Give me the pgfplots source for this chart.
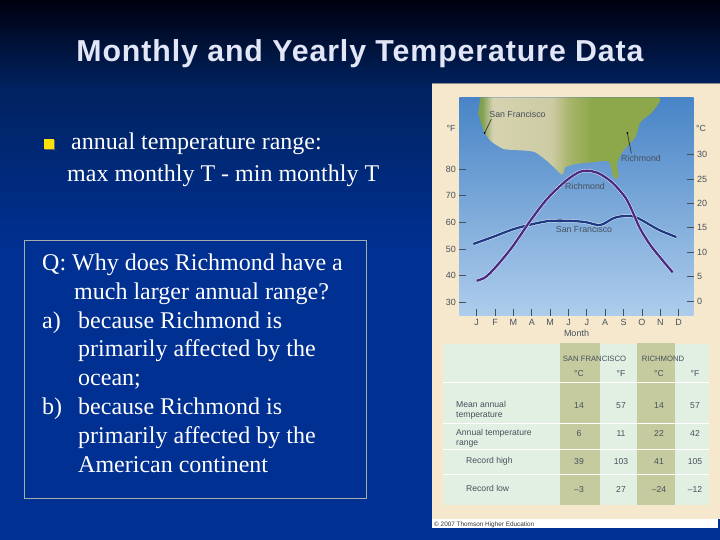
\documentclass[border=0pt]{standalone}
\usepackage{fontspec}
\setmainfont{Liberation Serif}
\newfontfamily\arial{Liberation Sans}
\newfontfamily\arialtitle[LetterSpace=3.0]{Liberation Sans}
\usepackage{pgfplots}
\pgfplotsset{compat=1.18}
\definecolor{slidetop}{HTML}{00000F}
\definecolor{slidemid}{HTML}{00225F}
\definecolor{slidelow}{HTML}{003092}
\definecolor{panel}{HTML}{F6E8CC}
\definecolor{tablebg}{HTML}{E2EFE3}
\definecolor{olivecol}{HTML}{C6CB9F}
\definecolor{inkgray}{HTML}{46505C}
\definecolor{richline}{HTML}{4A2A82}
\definecolor{sfline}{HTML}{1E3A86}
\definecolor{titlecol}{HTML}{E2E6F6}
\definecolor{boxline}{HTML}{A4ACAC}
\definecolor{skytop}{HTML}{4884C6}
\definecolor{skylow}{HTML}{AECDEC}
\definecolor{landa}{HTML}{7FA050}
\definecolor{landb}{HTML}{D6D2B0}
\definecolor{landc}{HTML}{CCCBA4}
\definecolor{landm}{HTML}{A8B46A}
\definecolor{landd}{HTML}{8CA84A}
% tikz maps the 25bp..75bp band of a shading onto the path
\pgfdeclareverticalshading{slide}{100bp}{color(0bp)=(slidelow); color(52bp)=(slidelow); color(67bp)=(slidemid); color(75bp)=(slidetop); color(100bp)=(slidetop)}
\pgfdeclarehorizontalshading{land}{100bp}{color(0bp)=(landa); color(26bp)=(landa); color(29bp)=(landb); color(45bp)=(landc); color(50bp)=(landm); color(56bp)=(landd); color(100bp)=(landd)}

\pgfplotstableread{
m f
1.00 38.1
1.47 39.4
2.02 43.1
2.92 50.6
3.92 60.6
4.83 68.75
5.83 75.4
6.55 78.75
7.00 79.4
7.64 78.4
8.37 75.0
9.09 69.4
9.46 64.4
9.91 57.5
10.55 50.6
11.67 41.25
}\richmond
\pgfplotstableread{
m f
0.82 51.9
1.83 54.4
2.92 57.25
3.83 59.0
4.92 60.5
6.00 60.6
6.92 60.1
7.73 59.0
8.46 61.6
9.09 62.4
9.73 61.75
10.90 57.25
11.87 54.5
}\sanfran

\begin{document}
\begin{tikzpicture}[x=1pt,y=-1pt]
\path[use as bounding box] (0,0) rectangle (720,540);
\shade[shading=slide] (0,0) rectangle (720,540);

% slide text
\node[anchor=base,text=titlecol,font=\arialtitle\bfseries\fontsize{30.3}{31}\selectfont] at (360,61.5) {Monthly and Yearly Temperature Data};
\fill[black!60] (45,140) rectangle (55,150);
\fill[yellow!85!orange] (44,139) rectangle (54,149);
\begin{scope}[every node/.style={anchor=base west,text=white,inner sep=0pt,font=\fontsize{24}{25}\selectfont}]
\node at (71,150) {annual temperature range:};
\node at (67,182) {max monthly T - min monthly T};
\draw[boxline,line width=1pt] (24.5,240.5) rectangle (366.5,498);
\node at (42,270) {Q: Why does Richmond have a};
\node at (74,299) {much larger annual range?};
\node at (42,328) {a)};
\node at (78,328) {because Richmond is};
\node at (78,356) {primarily affected by the};
\node at (78,385) {ocean;};
\node at (42,414) {b)};
\node at (78,414) {because Richmond is};
\node at (78,443) {primarily affected by the};
\node at (78,472) {American continent};
\end{scope}

% figure panel
\fill[panel] (432,84) rectangle (720,519);
\draw[black!45,line width=1pt] (432,84) -- (720,84);
\fill[white] (432,519) rectangle (718,528);
\shade[top color=skytop,bottom color=skylow] (459.3,97.3) rectangle (693.7,315.7);
\begin{scope}[xshift=432pt,yshift=-84pt,x=0.33333pt,y=-0.33333pt]
\shade[shading=land] plot[smooth,tension=0.35] coordinates {(145,40)(140,90)(155,140)(175,170)(215,195)(280,200)(310,205)(350,235)(390,272)(400,250)(430,240)(480,235)(530,232)(545,280)(560,280)(555,240)(570,205)(610,160)(625,115)(660,85)(685,50)(680,40)} -- cycle;
\draw[black!80,line width=0.7pt] (158,147) -- (178,105);
\fill[black] (158,147) circle (3);
\draw[black!80,line width=0.7pt] (586,147) -- (598,208);
\fill[black] (586,147) circle (3);
\end{scope}

% table
\fill[tablebg] (443,344) rectangle (709,505);
\fill[olivecol] (560,343) rectangle (600,505);
\fill[olivecol] (637,343) rectangle (675,505);
\foreach \yy in {382,423,449,474} \draw[white,line width=0.8pt] (443,\yy) -- (709,\yy);
\begin{scope}[every node/.style={text=inkgray,inner sep=0pt,font=\arial\fontsize{8.6}{10}\selectfont}]
\node[anchor=base,font=\arial\fontsize{7.7}{9}\selectfont] at (594.5,361) {SAN FRANCISCO};
\node[anchor=base,font=\arial\fontsize{7.7}{9}\selectfont] at (663,361) {RICHMOND};
\foreach \xx/\lab in {579/°C,621/°F,659/°C,695/°F} \node[anchor=base] at (\xx,376) {\lab};
\node[anchor=base west] at (456,407) {Mean annual};
\node[anchor=base west] at (456,417) {temperature};
\node[anchor=base west] at (456,435) {Annual temperature};
\node[anchor=base west] at (456,445) {range};
\node[anchor=base west] at (466,463) {Record high};
\node[anchor=base west] at (466,491) {Record low};
\foreach \yy/\a/\b/\c/\d in {408/14/57/14/57,436/6/11/22/42,464/39/103/41/105,492/–3/27/–24/–12} {
  \node[anchor=base] at (579,\yy) {\a};
  \node[anchor=base] at (621,\yy) {\b};
  \node[anchor=base] at (659,\yy) {\c};
  \node[anchor=base] at (695,\yy) {\d};
}
\node[anchor=base west,text=black!80,font=\arial\fontsize{6.4}{7}\selectfont] at (434,526) {© 2007 Thomson Higher Education};
\end{scope}

% temperature chart
\begin{axis}[
  at={(459.3pt,-315.7pt)},anchor=south west,
  scale only axis,width=234.4pt,height=218.4pt,
  xmin=0.056,xmax=12.815,ymin=25,ymax=106.9,
  axis x line*=bottom,axis y line*=left,
  axis line style={draw=none},
  tick align=inside,
  major tick length=7pt,
  tick style={inkgray,line width=0.8pt},
  xtick={1,...,12},
  xticklabels={J,F,M,A,M,J,J,A,S,O,N,D},
  ytick={30,40,50,60,70,80},
  tick label style={text=inkgray,font=\arial\fontsize{9}{10}\selectfont,/pgf/number format/assume math mode=true},
  xlabel={Month},
  xlabel style={text=inkgray,font=\arial\fontsize{9}{10}\selectfont,yshift=2.5pt},
  ]
\addplot[white!80!skylow,line width=3.2pt,smooth,tension=0.5] table[x=m,y=f] {\sanfran};
\addplot[sfline,line width=2.3pt,smooth,tension=0.5] table[x=m,y=f] {\sanfran};
\addplot[white!80!skylow,line width=3.2pt,smooth,tension=0.5] table[x=m,y=f] {\richmond};
\addplot[richline,line width=2.3pt,smooth,tension=0.5] table[x=m,y=f] {\richmond};
\end{axis}
\begin{axis}[
  at={(459.3pt,-315.7pt)},anchor=south west,
  scale only axis,width=234.4pt,height=218.4pt,
  xmin=0,xmax=1,ymin=-3,ymax=41.76,
  axis x line=none,axis y line*=right,
  axis line style={draw=none},
  tick align=inside,
  major tick length=7pt,
  tick style={inkgray,line width=0.8pt},
  ytick={0,5,10,15,20,25,30},
  tick label style={text=inkgray,font=\arial\fontsize{9}{10}\selectfont,/pgf/number format/assume math mode=true},
  ]
\end{axis}

% labels on the chart
\begin{scope}[every node/.style={text=inkgray,inner sep=0pt,font=\arial\fontsize{8.8}{10}\selectfont}]
\node[anchor=base] at (451,132) {°F};
\node[anchor=base] at (701,132) {°C};
\node[anchor=base] at (517.5,118) {San Francisco};
\node[anchor=base] at (641,162) {Richmond};
\node[anchor=base] at (585,190) {Richmond};
\node[anchor=base] at (584,233) {San Francisco};
\end{scope}
\end{tikzpicture}
\end{document}
